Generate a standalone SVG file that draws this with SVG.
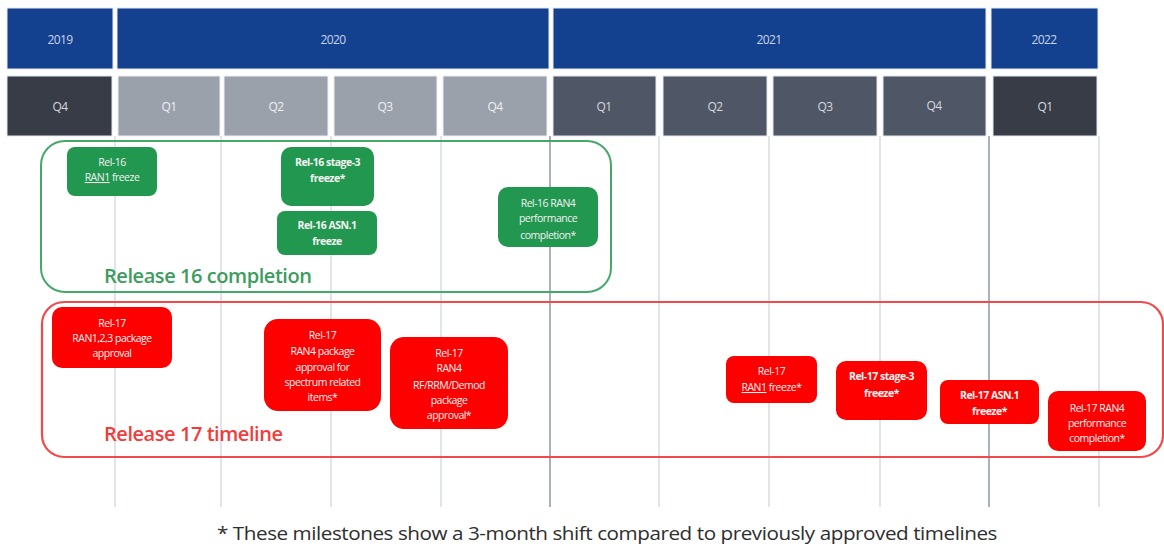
<svg xmlns="http://www.w3.org/2000/svg" width="1164" height="546" viewBox="0 0 1164 546">
  <style>
    .year { fill: #13418f; stroke: #e8ecf3; stroke-width: 1; }
    .q-dark { fill: #373c47; stroke: #e6e7ea; stroke-width: 1; }
    .q-light { fill: #9aa1ab; stroke: #eef0f2; stroke-width: 1; }
    .q-mid { fill: #4f5666; stroke: #e6e7ea; stroke-width: 1; }
    .yt { font-family: "Open Sans", "Liberation Sans", sans-serif; font-size: 12px; fill: #c9d4ea; text-anchor: middle; letter-spacing: -0.6px; }
    .qt { font-family: "Open Sans", "Liberation Sans", sans-serif; font-size: 12px; fill: #d4d8de; text-anchor: middle; letter-spacing: -0.6px; }
    .qt-l { fill: #eef0f3; }
    .grid { stroke: #e1e4e8; stroke-width: 2; }
    .grid-y { stroke: #a9b1bf; stroke-width: 2; }
    .g-node { fill: #21974f; }
    .r-node { fill: #ff0000; }
    .nt { font-family: "Open Sans", "Liberation Sans", sans-serif; font-size: 10.5px; fill: #f2f2f2; text-anchor: middle; letter-spacing: -0.5px; }
    .nb { font-weight: bold; }
    .g-frame { fill: none; stroke: #45a868; stroke-width: 2; }
    .r-frame { fill: none; stroke: #f24a4a; stroke-width: 2.2; }
    .lbl { font-family: "Open Sans", "Liberation Sans", sans-serif; font-size: 20px; font-weight: 600; }
    .note { font-family: "Open Sans", "Liberation Sans", sans-serif; font-size: 18.5px; fill: #2e2e2e; letter-spacing: -0.4px; }
  </style>

  <rect width="1164" height="546" fill="#ffffff"/>

  <!-- year header -->
  <g id="years">
    <rect class="year" x="7" y="8" width="106" height="61"/>
    <rect class="year" x="117" y="8" width="432" height="61"/>
    <rect class="year" x="553" y="8" width="433" height="61"/>
    <rect class="year" x="991" y="8" width="107" height="61"/>
    <text class="yt" x="60" y="44">2019</text>
    <text class="yt" x="333" y="44">2020</text>
    <text class="yt" x="769" y="44">2021</text>
    <text class="yt" x="1044" y="44">2022</text>
  </g>

  <!-- quarter header -->
  <g id="quarters">
    <rect class="q-dark" x="7" y="76" width="105" height="60"/>
    <rect class="q-light" x="118" y="76" width="102" height="60"/>
    <rect class="q-light" x="224" y="76" width="104" height="60"/>
    <rect class="q-light" x="334" y="76" width="103" height="60"/>
    <rect class="q-light" x="443" y="76" width="104" height="60"/>
    <rect class="q-mid" x="553" y="76" width="103" height="60"/>
    <rect class="q-mid" x="663" y="76" width="104" height="60"/>
    <rect class="q-mid" x="773" y="76" width="104" height="60"/>
    <rect class="q-mid" x="883" y="76" width="103" height="60"/>
    <rect class="q-dark" x="993" y="76" width="104" height="60"/>
    <text class="qt" x="60" y="111">Q4</text>
    <text class="qt qt-l" x="169" y="111">Q1</text>
    <text class="qt qt-l" x="276" y="111">Q2</text>
    <text class="qt qt-l" x="385" y="111">Q3</text>
    <text class="qt qt-l" x="495" y="111">Q4</text>
    <text class="qt" x="604" y="111">Q1</text>
    <text class="qt" x="715" y="111">Q2</text>
    <text class="qt" x="825" y="111">Q3</text>
    <text class="qt" x="934" y="110">Q4</text>
    <text class="qt" x="1045" y="111">Q1</text>
  </g>

  <!-- quarter grid lines -->
  <g id="grid">
    <line class="grid" x1="115" y1="136" x2="115" y2="507"/>
    <line class="grid" x1="221" y1="136" x2="221" y2="507"/>
    <line class="grid" x1="331" y1="136" x2="331" y2="507"/>
    <line class="grid" x1="441" y1="136" x2="441" y2="507"/>
    <line class="grid-y" x1="550" y1="136" x2="550" y2="507"/>
    <line class="grid" x1="659" y1="136" x2="659" y2="507"/>
    <line class="grid" x1="769" y1="136" x2="769" y2="507"/>
    <line class="grid" x1="880" y1="136" x2="880" y2="507"/>
    <line class="grid-y" x1="989" y1="136" x2="989" y2="507"/>
    <line class="grid" x1="1099" y1="136" x2="1099" y2="507"/>
  </g>

  <!-- release frames -->
  <g id="release16">
    <rect class="g-frame" x="41" y="141" width="570" height="151" rx="24"/>
    <text class="lbl" x="104" y="283" fill="#3c9d5e" textLength="208">Release 16 completion</text>
  </g>
  <g id="release17">
    <rect class="r-frame" x="42" y="302" width="1121" height="155" rx="22"/>
    <text class="lbl" x="104" y="441" fill="#f23c3c" textLength="179">Release 17 timeline</text>
  </g>

  <!-- Rel-16 milestones -->
  <g id="rel16-ran1-freeze">
    <rect class="g-node" x="67" y="147" width="90" height="49" rx="8"/>
    <text class="nt" x="112" y="166">Rel-16</text>
    <text class="nt" x="112" y="181"><tspan text-decoration="underline">RAN1</tspan> freeze</text>
  </g>
  <g id="rel16-stage3-freeze">
    <rect class="g-node" x="281" y="147" width="93" height="59" rx="10"/>
    <text class="nt nb" x="327.5" y="166">Rel-16 stage-3</text>
    <text class="nt nb" x="327.5" y="182">freeze*</text>
  </g>
  <g id="rel16-asn1-freeze">
    <rect class="g-node" x="277" y="211" width="100" height="44" rx="8"/>
    <text class="nt nb" x="327" y="229">Rel-16 ASN.1</text>
    <text class="nt nb" x="327" y="245">freeze</text>
  </g>
  <g id="rel16-ran4-perf">
    <rect class="g-node" x="498" y="187" width="100" height="60" rx="10"/>
    <text class="nt" x="548" y="207">Rel-16 RAN4</text>
    <text class="nt" x="548" y="222">performance</text>
    <text class="nt" x="548" y="239">completion*</text>
  </g>

  <!-- Rel-17 milestones -->
  <g id="rel17-ran123-package">
    <rect class="r-node" x="52" y="307" width="120" height="61" rx="10"/>
    <text class="nt" x="112" y="327">Rel-17</text>
    <text class="nt" x="112" y="342">RAN1,2,3 package</text>
    <text class="nt" x="112" y="357">approval</text>
  </g>
  <g id="rel17-ran4-spectrum">
    <rect class="r-node" x="264" y="319" width="117" height="92" rx="14"/>
    <text class="nt" x="322.5" y="339">Rel-17</text>
    <text class="nt" x="322.5" y="355">RAN4 package</text>
    <text class="nt" x="322.5" y="371">approval for</text>
    <text class="nt" x="322.5" y="386">spectrum related</text>
    <text class="nt" x="322.5" y="401">items*</text>
  </g>
  <g id="rel17-ran4-rf">
    <rect class="r-node" x="390" y="337" width="118" height="92" rx="14"/>
    <text class="nt" x="449" y="357">Rel-17</text>
    <text class="nt" x="449" y="372">RAN4</text>
    <text class="nt" x="449" y="389">RF/RRM/Demod</text>
    <text class="nt" x="449" y="404">package</text>
    <text class="nt" x="449" y="419">approval*</text>
  </g>
  <g id="rel17-ran1-freeze">
    <rect class="r-node" x="726" y="356" width="91" height="47" rx="8"/>
    <text class="nt" x="771.5" y="375">Rel-17</text>
    <text class="nt" x="771.5" y="391"><tspan text-decoration="underline">RAN1</tspan> freeze*</text>
  </g>
  <g id="rel17-stage3-freeze">
    <rect class="r-node" x="836" y="361" width="91" height="59" rx="10"/>
    <text class="nt nb" x="881.5" y="380">Rel-17 stage-3</text>
    <text class="nt nb" x="881.5" y="397">freeze*</text>
  </g>
  <g id="rel17-asn1-freeze">
    <rect class="r-node" x="940" y="380" width="99" height="44" rx="8"/>
    <text class="nt nb" x="989.5" y="399">Rel-17 ASN.1</text>
    <text class="nt nb" x="989.5" y="415">freeze*</text>
  </g>
  <g id="rel17-ran4-perf">
    <rect class="r-node" x="1048" y="391" width="98" height="60" rx="10"/>
    <text class="nt" x="1097" y="412">Rel-17 RAN4</text>
    <text class="nt" x="1097" y="427">performance</text>
    <text class="nt" x="1097" y="442">completion*</text>
  </g>

  <!-- footnote -->
  <text class="note" x="217" y="540" textLength="780" lengthAdjust="spacingAndGlyphs">* These milestones show a 3-month shift compared to previously approved timelines</text>
</svg>
